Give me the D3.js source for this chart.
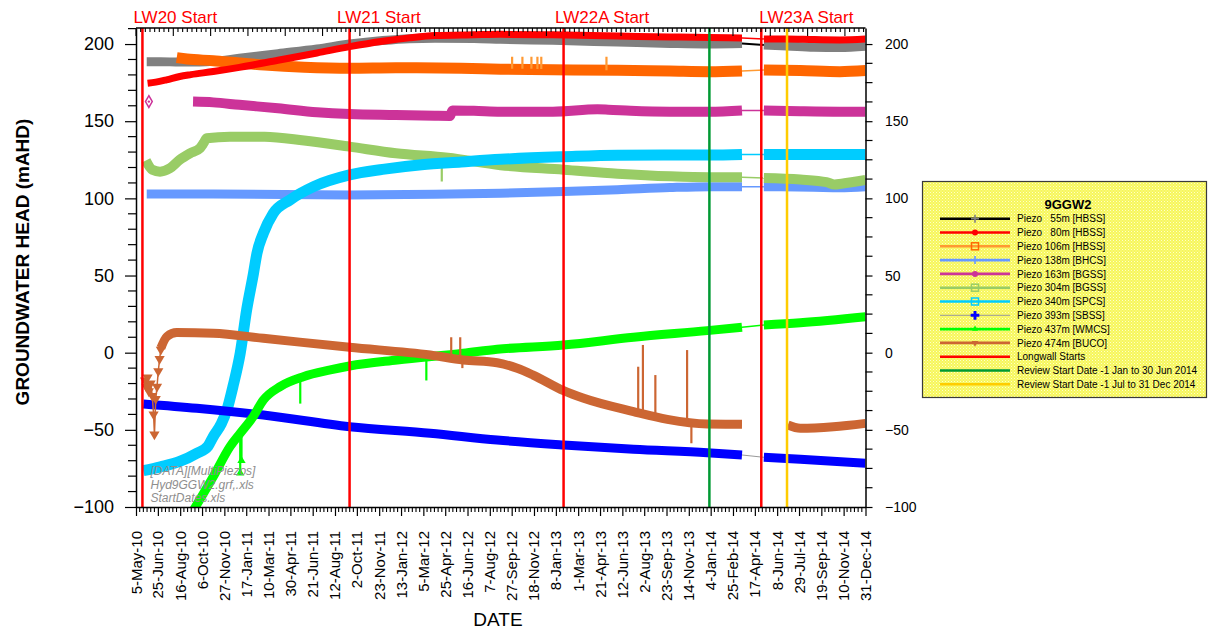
<!DOCTYPE html>
<html>
<head>
<meta charset="utf-8">
<script src="https://cdn.jsdelivr.net/npm/d3@7"></script>
<style>
  body { margin: 0; background: #ffffff; }
  svg text { font-family: "Liberation Sans", Arial, Helvetica, sans-serif; }
</style>
</head>
<body>
<svg id="chart" width="1216" height="633"></svg>
<script>
// ---------------------------------------------------------------
// 9GGW2 multi-level piezometer hydrograph (groundwater head, mAHD)
// ---------------------------------------------------------------

// Date axis tick labels
const xTickLabels = ["5-May-10","25-Jun-10","16-Aug-10","6-Oct-10","27-Nov-10","17-Jan-11","10-Mar-11",
  "30-Apr-11","21-Jun-11","12-Aug-11","2-Oct-11","23-Nov-11","13-Jan-12","5-Mar-12","25-Apr-12",
  "16-Jun-12","7-Aug-12","27-Sep-12","18-Nov-12","8-Jan-13","1-Mar-13","21-Apr-13","12-Jun-13",
  "2-Aug-13","23-Sep-13","14-Nov-13","4-Jan-14","25-Feb-14","17-Apr-14","8-Jun-14","29-Jul-14",
  "19-Sep-14","10-Nov-14","31-Dec-14"];
const yTickValues = [-100, -50, 0, 50, 100, 150, 200];

// Longwall start dates and review period start dates
const longwallNames = ["LW20 Start", "LW21 Start", "LW22A Start", "LW23A Start"];
const longwallDates = ["2010-05-20", "2011-09-15", "2013-01-26", "2014-05-02"];
const reviewDates = ["2014-01-01", "2014-07-01"];

// Logger download gap (no readings between these dates)
const dataGap = ["2014-03-20", "2014-05-06"];

// Piezometer readings [date, head mAHD]
const piezo55m = [["2010-05-30",188.6],["2010-07-01",188.6],["2010-08-15",188.3],["2010-10-01",188.4],
  ["2010-11-01",188.8],["2011-01-01",190.8],["2011-04-01",193.8],["2011-07-01",196.8],["2011-09-15",200],
  ["2011-12-01",202.3],["2012-02-01",203.5],["2012-04-01",203.8],["2012-07-01",203.6],["2012-09-01",203.1],
  ["2013-01-01",202.4],["2013-06-01",201.3],["2013-10-01",200.4],["2014-01-01",200],["2014-03-18",200.3],
  ["2014-05-08",199.4],["2014-07-01",198.8],["2014-09-01",197.9],["2014-11-01",197.7],["2014-12-31",198.6]];
const piezo80m = [["2010-06-01",174.6],["2010-06-20",175.3],["2010-07-15",176.8],["2010-08-15",179],
  ["2010-09-10",180.2],["2010-11-01",182.2],["2011-01-01",184.9],["2011-04-01",189.5],["2011-07-01",194.2],
  ["2011-09-15",198.3],["2011-12-01",201.8],["2012-02-01",204],["2012-04-01",205.5],["2012-07-01",206],
  ["2012-09-01",206.3],["2013-01-01",206],["2013-06-01",205.2],["2013-10-01",204.6],["2014-01-01",204.2],
  ["2014-03-18",204],["2014-05-08",203.3],["2014-07-01",203.3],["2014-09-01",202.9],["2014-11-01",202.7],
  ["2014-12-31",203.3]];
const piezo106m = [["2010-08-08",191.2],["2010-09-01",190.3],["2010-11-01",189.2],["2011-01-01",187.7],
  ["2011-03-01",186.4],["2011-06-01",185],["2011-09-15",184.3],["2012-01-01",184.6],["2012-06-01",184.3],
  ["2012-09-01",183.7],["2013-01-01",183.3],["2013-06-01",183],["2013-10-01",182.5],["2014-01-01",182.1],
  ["2014-03-18",182.6],["2014-05-08",183.2],["2014-08-01",182.8],["2014-11-01",182.1],["2014-12-31",182.8]];
const piezo138m = [["2010-05-30",102.9],["2010-11-01",102.9],["2011-09-15",102.2],["2012-04-01",102.6],
  ["2012-09-01",103.3],["2013-01-26",104.4],["2013-06-01",105.6],["2013-10-01",107],["2014-01-01",107.6],
  ["2014-03-18",107.6],["2014-05-08",107.6],["2014-09-01",107.2],["2014-11-01",106.9],["2014-12-31",107.6]];
const piezo163mEarly = [["2010-06-04",162.7]];
const piezo163m = [["2010-09-15",162.7],["2010-11-01",162.2],["2011-01-01",160.6],["2011-04-01",158.4],
  ["2011-07-01",155.8],["2011-09-15",154.6],["2012-01-01",154],["2012-04-01",153.5],["2012-05-06",153.4],
  ["2012-05-12",157],["2012-07-01",156.8],["2012-09-01",156.2],["2013-01-01",156.2],["2013-04-15",157.7],
  ["2013-05-10",157.5],["2013-07-01",156.8],["2013-10-01",156.2],["2014-01-01",156.2],["2014-03-18",157],
  ["2014-05-08",157],["2014-08-01",156.5],["2014-11-01",156.2],["2014-12-31",156.2]];
const piezo304m = [["2010-05-28",124.5],["2010-06-12",118.5],["2010-06-30",117.3],["2010-07-23",119.5],
  ["2010-08-15",125],["2010-09-08",129.2],["2010-10-01",132.5],["2010-10-10",136],["2010-10-17",139],
  ["2010-12-10",140],["2011-03-01",140],["2011-06-01",137.5],["2011-09-15",133.5],["2012-01-01",129.2],
  ["2012-05-01",126.3],["2012-09-01",121.5],["2013-01-26",118.6],["2013-06-01",116],["2013-10-01",114.3],
  ["2014-01-01",113.7],["2014-03-18",113.7],["2014-05-08",113.2],["2014-08-01",112.2],["2014-10-01",110.5],
  ["2014-10-20",109],["2014-11-05",109.5],["2014-12-31",111.9]];
const piezo340m = [["2010-05-22",-76.5],["2010-07-01",-74],["2010-08-15",-70.5],["2010-09-24",-65.2],
  ["2010-10-20",-60.5],["2010-11-01",-54.4],["2010-11-20",-46],["2010-12-03",-37.1],["2010-12-17",-22],
  ["2011-01-03",-0.4],["2011-01-18",27.7],["2011-02-03",51.5],["2011-02-11",64.4],["2011-02-26",77.4],
  ["2011-03-21",90.3],["2011-04-29",99],["2011-06-23",107.6],["2011-09-15",115.2],["2011-12-01",118.8],
  ["2012-03-01",121.8],["2012-06-01",123.6],["2012-09-01",125.3],["2013-01-26",127],["2013-06-01",128],
  ["2014-01-01",128.1],["2014-03-18",128.5],["2014-05-08",128.5],["2014-12-31",128.5]];
const piezo393m = [["2010-05-22",-33.2],["2010-09-24",-36],["2011-02-26",-40.4],["2011-09-15",-48],
  ["2012-03-21",-52.2],["2012-08-24",-56.6],["2013-01-26",-59.8],["2013-07-08",-62.6],["2013-12-27",-64.8],
  ["2014-03-18",-66.3],["2014-05-08",-67.8],["2014-08-01",-69.1],["2014-12-31",-71.7]];
const piezo437m = [["2010-09-14",-103],["2010-11-01",-80.4],["2010-12-10",-60.9],["2011-01-03",-52.2],
  ["2011-02-02",-41.5],["2011-02-26",-30.7],["2011-04-06",-22],["2011-05-30",-15.6],["2011-08-01",-11.2],
  ["2011-09-15",-8.6],["2012-01-04",-4.7],["2012-06-06",-0.4],["2012-08-24",2.2],["2013-01-26",5],
  ["2013-07-08",10],["2013-12-27",14.3],["2014-03-18",16.5],["2014-05-08",18],["2014-08-01",19.4],
  ["2014-12-31",23.3]];
const piezo474mEarly = [["2010-05-26",-18],["2010-05-29",-22],["2010-06-01",-16],["2010-06-04",-25],
  ["2010-06-08",-20],["2010-06-12",-28],["2010-06-15",-40],["2010-06-17",-53],["2010-06-20",-30],
  ["2010-06-23",-22],["2010-06-26",-12],["2010-06-29",-4],["2010-07-02",2]];
const piezo474m = [["2010-07-02",3],["2010-07-16",10.4],["2010-08-08",13],["2010-11-01",12.6],
  ["2011-02-26",9.3],["2011-09-15",3.5],["2012-03-21",-1.5],["2012-06-06",-4.7],["2012-08-24",-6.5],
  ["2012-10-10",-10.1],["2012-11-16",-14.5],["2013-01-26",-24.6],["2013-03-14",-29.6],["2013-07-08",-38.2],
  ["2013-09-25",-43.2],["2013-12-27",-46.2],["2014-03-18",-46.4],["2014-07-03",-46.9],["2014-08-01",-49],
  ["2014-10-17",-48],["2014-12-31",-45.8]];

// Single-reading spikes [date, from, to]
const spikes106m = [["2012-09-28",184,191.8],["2012-10-22",184,191.8],["2012-11-12",184,191.8],
  ["2012-11-26",183.8,191.8],["2012-12-05",183.8,191.8],["2013-05-06",183,191.8]];
const spikes304m = [["2012-04-17",126,111]];
const spikes437m = [["2011-01-03",-52,-78],["2011-01-06",-50,-70],["2011-05-23",-15,-33],["2012-03-12",-4,-18]];
const spikes474m = [["2012-05-09",-2,10],["2012-05-30",-3,10],["2012-06-04",-4,-10],["2013-07-19",-38.5,-9.1],
  ["2013-07-30",-39,5],["2013-08-28",-41,-14.5],["2013-11-10",-45,1.7],["2013-11-20",-45,-58.7]];

const legendTitle = "9GGW2";
const legendLabels = ["Piezo   55m [HBSS]","Piezo   80m [HBSS]","Piezo 106m [HBSS]","Piezo 138m [BHCS]",
  "Piezo 163m [BGSS]","Piezo 304m [BGSS]","Piezo 340m [SPCS]","Piezo 393m [SBSS]","Piezo 437m [WMCS]",
  "Piezo 474m [BUCO]","Longwall Starts","Review Start Date -1 Jan to 30 Jun 2014",
  "Review Start Date -1 Jul to 31 Dec 2014"];
const sourceNote = ["[DATA][MultiPiezos]", "Hyd9GGW2.grf,.xls", "StartDates.xls"];

// ---------------- styles ----------------
const seriesStyle = [
  { data: piezo55m,  band: "#808080", line: "#000000", width: 9,  marker: "plus",   mColor: "#808080", spikes: [], gapLine: 2 },
  { data: piezo80m,  band: "#ff0000", line: "#ff0000", width: 7,  marker: "dot",    mColor: "#ff0000", spikes: [], gapLine: 1.5 },
  { data: piezo106m, band: "#ff6600", line: "#ff9933", width: 11, marker: "square", mColor: "#ff6600", spikes: spikes106m, spikeColor: "#ff9933", gapLine: 1.5 },
  { data: piezo138m, band: "#6699ff", line: "#6699ff", width: 9,  marker: "plus",   mColor: "#6699ff", spikes: [], gapLine: 1.5 },
  { data: piezo163m, band: "#cc3399", line: "#cc3399", width: 10, marker: "dot",    mColor: "#cc3399", spikes: [], gapLine: 1.5, early: piezo163mEarly },
  { data: piezo304m, band: "#99cc66", line: "#99cc66", width: 10, marker: "square", mColor: "#99cc66", spikes: spikes304m, gapLine: 1.5 },
  { data: piezo340m, band: "#00ccff", line: "#00ccff", width: 11, marker: "square", mColor: "#00ccff", spikes: [], gapLine: 1.5 },
  { data: piezo393m, band: "#0000ff", line: "#999999", width: 9,  marker: "cross",  mColor: "#0000ff", spikes: [], gapLine: 1 },
  { data: piezo437m, band: "#00ff00", line: "#00ff00", width: 9,  marker: "triUp",  mColor: "#00ff00", spikes: spikes437m, spikeMarks: 2, gapLine: 1.5 },
  { data: piezo474m, band: "#cc6633", line: "#cc6633", width: 9,  marker: "triDown",mColor: "#cc6633", spikes: spikes474m, spikeMarks: 0, gapLine: 0, early: piezo474mEarly }
];
const drawOrder = [0, 2, 1, 3, 4, 5, 6, 7, 8, 9];
const longwallColor = "#ff0000";
const reviewColors = ["#009933", "#ffcc00"];
const labelShift = [-9, -12.5, -8.5, -2];

// ---------------- scales ----------------
const svg = d3.select("#chart");
const plot = { left: 136, right: 865.5, top: 28, bottom: 507 };
const parseDate = d3.timeParse("%Y-%m-%d");
const parseTick = d3.timeParse("%e-%b-%y");

const x = d3.scaleTime()
  .domain([parseDate("2010-05-05"), parseDate("2014-12-31")])
  .range([plot.left, plot.right]);
const y = d3.scaleLinear().domain([-100, 210.4]).range([plot.bottom, plot.top]);

const defs = svg.append("defs");
defs.append("clipPath").attr("id", "plotClip").append("rect")
  .attr("x", plot.left).attr("y", plot.top)
  .attr("width", plot.right - plot.left).attr("height", plot.bottom - plot.top);
const pat = defs.append("pattern").attr("id", "legendFill")
  .attr("width", 3).attr("height", 3).attr("patternUnits", "userSpaceOnUse");
pat.append("rect").attr("width", 3).attr("height", 3).attr("fill", "#f6f65c");
pat.append("rect").attr("width", 1).attr("height", 1).attr("fill", "#ffffc8");
pat.append("rect").attr("x", 1.5).attr("y", 1.5).attr("width", 1).attr("height", 1).attr("fill", "#ffffa8");

// ---------------- data ----------------
const toPts = arr => arr.map(d => ({ date: parseDate(d[0]), v: d[1] }));
const gapStart = parseDate(dataGap[0]), gapEnd = parseDate(dataGap[1]);
const bandLine = d3.line().x(d => x(d.date)).y(d => y(d.v)).curve(d3.curveMonotoneX);
const plainLine = d3.line().x(d => x(d.date)).y(d => y(d.v));

const dataG = svg.append("g").attr("clip-path", "url(#plotClip)");

// source note (drawn beneath the series)
const noteG = svg.append("g");
sourceNote.forEach((t, i) => {
  noteG.append("text").attr("x", 150.5).attr("y", 475 + i * 13.6)
    .attr("font-size", 12).attr("font-style", "italic").attr("fill", "#8e8e8e").text(t);
});

function symbolPath(type, size) {
  if (type === "triUp" || type === "triDown") return d3.symbol(d3.symbolTriangle, size)();
  return d3.symbol(d3.symbolCross, size)();
}

drawOrder.forEach(idx => {
  const s = seriesStyle[idx];
  const pts = toPts(s.data);
  const before = pts.filter(d => d.date < gapStart);
  const after = pts.filter(d => d.date > gapEnd);

  // thin connecting line across the logger gap
  if (s.gapLine > 0 && before.length && after.length) {
    dataG.append("path").datum([before[before.length - 1], after[0]])
      .attr("d", plainLine).attr("fill", "none")
      .attr("stroke", s.line).attr("stroke-width", s.gapLine);
  }
  // early scattered readings
  if (s.early) {
    const ep = toPts(s.early);
    if (ep.length > 1) {
      dataG.append("path").datum(ep).attr("d", plainLine).attr("fill", "none")
        .attr("stroke", s.band).attr("stroke-width", 1.5);
    }
    ep.forEach(p => {
      if (s.marker === "triDown") {
        dataG.append("path").attr("d", symbolPath("triDown", 45))
          .attr("transform", `translate(${x(p.date)},${y(p.v)}) rotate(180)`)
          .attr("fill", s.band);
      } else {
        dataG.append("path").attr("d", d3.symbol(d3.symbolDiamond, 40)())
          .attr("transform", `translate(${x(p.date)},${y(p.v)})`)
          .attr("fill", "none").attr("stroke", s.band).attr("stroke-width", 1.5);
        dataG.append("circle").attr("cx", x(p.date)).attr("cy", y(p.v)).attr("r", 1.2).attr("fill", s.band);
      }
    });
  }
  // thick band of readings
  [before, after].forEach(seg => {
    if (seg.length > 1) {
      dataG.append("path").datum(seg).attr("d", bandLine).attr("fill", "none")
        .attr("stroke", s.band).attr("stroke-width", s.width)
        .attr("stroke-linejoin", "round").attr("stroke-linecap", "butt");
    }
  });
  // single-reading spikes
  s.spikes.forEach((sp, k) => {
    const d = parseDate(sp[0]);
    dataG.append("line").attr("x1", x(d)).attr("x2", x(d))
      .attr("y1", y(sp[1])).attr("y2", y(sp[2]))
      .attr("stroke", s.spikeColor || s.band)
      .attr("stroke-width", 2.2);
    if (s.spikeMarks && k < s.spikeMarks) {
      dataG.append("path").attr("d", symbolPath(s.marker, 30))
        .attr("transform", `translate(${x(d)},${y(sp[2])})`)
        .attr("fill", s.band);
    }
  });
});

// ---------------- event lines ----------------
const evG = svg.append("g");
longwallDates.forEach((ds, i) => {
  const xx = x(parseDate(ds));
  evG.append("line").attr("x1", xx).attr("x2", xx).attr("y1", plot.top).attr("y2", plot.bottom)
    .attr("stroke", longwallColor).attr("stroke-width", 2.5);
  evG.append("text").attr("x", xx + labelShift[i]).attr("y", 23)
    .attr("font-size", 17).attr("fill", longwallColor).text(longwallNames[i]);
});
reviewDates.forEach((ds, i) => {
  const xx = x(parseDate(ds));
  evG.append("line").attr("x1", xx).attr("x2", xx).attr("y1", plot.top).attr("y2", plot.bottom)
    .attr("stroke", reviewColors[i]).attr("stroke-width", 2.5);
});

// ---------------- axes ----------------
const axisStroke = g => {
  g.selectAll(".domain").attr("stroke", "#000").attr("stroke-width", 1.5);
  g.selectAll(".tick line").attr("stroke", "#000").attr("stroke-width", 1.2);
};

// left
const gLeft = svg.append("g").attr("transform", `translate(${plot.left},0)`)
  .call(d3.axisLeft(y).tickValues(yTickValues).tickSize(11).tickSizeOuter(0).tickPadding(11));
gLeft.selectAll("text").attr("font-size", 18).attr("fill", "#000");
axisStroke(gLeft);
gLeft.selectAll(".minor").data(d3.range(-100, 211, 10).filter(v => v % 50 !== 0))
  .enter().append("line").attr("class", "minor")
  .attr("x1", -8).attr("x2", 0).attr("y1", d => y(d)).attr("y2", d => y(d))
  .attr("stroke", "#000").attr("stroke-width", 1.2);

// right
const gRight = svg.append("g").attr("transform", `translate(${plot.right},0)`)
  .call(d3.axisRight(y).tickValues(yTickValues).tickSize(7).tickSizeOuter(0).tickPadding(12.5));
gRight.selectAll("text").attr("font-size", 14).attr("fill", "#000");
axisStroke(gRight);
gRight.selectAll(".minor").data(d3.range(-100, 211, 12.5).filter(v => v % 50 !== 0))
  .enter().append("line").attr("class", "minor")
  .attr("x1", 0).attr("x2", 7).attr("y1", d => y(d)).attr("y2", d => y(d))
  .attr("stroke", "#000").attr("stroke-width", 1.2);

// bottom
const tickDates = xTickLabels.map(parseTick);
const gBottom = svg.append("g").attr("transform", `translate(0,${plot.bottom})`)
  .call(d3.axisBottom(x).tickValues(tickDates).tickSize(9).tickSizeOuter(0)
    .tickFormat((d, i) => xTickLabels[i]));
axisStroke(gBottom);
gBottom.selectAll("text")
  .attr("font-size", 15).attr("fill", "#000")
  .attr("transform", "rotate(-90)").attr("text-anchor", "end")
  .attr("x", -24).attr("y", 5).attr("dy", "0");
const tickIndex = d3.scaleLinear().domain([0, xTickLabels.length - 1]).range([plot.left, plot.right]);
gBottom.selectAll(".minor").data(d3.range(0, (xTickLabels.length - 1) * 6).filter(i => i % 6 !== 0))
  .enter().append("line").attr("class", "minor")
  .attr("x1", d => tickIndex(d / 6)).attr("x2", d => tickIndex(d / 6))
  .attr("y1", 0).attr("y2", 5).attr("stroke", "#000").attr("stroke-width", 1.1);

// top (inward ticks)
const gTop = svg.append("g").attr("transform", `translate(0,${plot.top})`);
gTop.append("line").attr("x1", plot.left).attr("x2", plot.right).attr("y1", 0).attr("y2", 0)
  .attr("stroke", "#000").attr("stroke-width", 1.5);
const topStepDays = 87 / 8;
const t0 = x.domain()[0];
const topTicks = d3.range(0, 1701 / topStepDays).map(i => ({ i, d: d3.timeHour.offset(t0, Math.round(i * topStepDays * 24)) }));
gTop.selectAll(".tt").data(topTicks).enter().append("line")
  .attr("x1", d => x(d.d)).attr("x2", d => x(d.d))
  .attr("y1", 0).attr("y2", d => (d.i % 8 === 0 ? 8 : 4))
  .attr("stroke", "#000").attr("stroke-width", 1.1);

// axis titles
svg.append("text").attr("transform", "translate(29,262) rotate(-90)")
  .attr("text-anchor", "middle").attr("font-size", 19).attr("font-weight", "bold")
  .attr("fill", "#000").text("GROUNDWATER HEAD (mAHD)");
svg.append("text").attr("x", 498).attr("y", 626).attr("text-anchor", "middle")
  .attr("font-size", 19).attr("fill", "#000").text("DATE");

// ---------------- legend ----------------
const lg = svg.append("g");
lg.append("rect").attr("x", 922.5).attr("y", 181.5).attr("width", 284).attr("height", 216)
  .attr("fill", "url(#legendFill)").attr("stroke", "#3a3a3a").attr("stroke-width", 1.2);
lg.append("text").attr("x", 1068).attr("y", 209).attr("text-anchor", "middle")
  .attr("font-size", 13).attr("font-weight", "bold").attr("fill", "#000").text(legendTitle);

const legendRowColors = seriesStyle.map(s => s.line).concat([longwallColor], reviewColors);
legendLabels.forEach((lab, i) => {
  const cy = 218.7 + i * 13.8;
  const s = seriesStyle[i];
  lg.append("line").attr("x1", 940).attr("x2", 1010).attr("y1", cy).attr("y2", cy)
    .attr("stroke", legendRowColors[i]).attr("stroke-width", s && s.marker === "cross" ? 1 : 2.6);
  if (s) {
    const c = s.mColor;
    if (s.marker === "plus") {
      lg.append("line").attr("x1", 971).attr("x2", 979).attr("y1", cy).attr("y2", cy).attr("stroke", c).attr("stroke-width", 1.6);
      lg.append("line").attr("x1", 975).attr("x2", 975).attr("y1", cy - 4).attr("y2", cy + 4).attr("stroke", c).attr("stroke-width", 1.6);
    } else if (s.marker === "dot") {
      lg.append("circle").attr("cx", 975).attr("cy", cy).attr("r", 3).attr("fill", c);
    } else if (s.marker === "square") {
      lg.append("rect").attr("x", 971.5).attr("y", cy - 3.5).attr("width", 7).attr("height", 7)
        .attr("fill", "none").attr("stroke", c).attr("stroke-width", 1.5);
    } else if (s.marker === "cross") {
      lg.append("path").attr("d", d3.symbol(d3.symbolCross, 42)()).attr("transform", `translate(975,${cy})`).attr("fill", c);
    } else if (s.marker === "triUp") {
      lg.append("path").attr("d", d3.symbol(d3.symbolTriangle, 16)()).attr("transform", `translate(975,${cy})`).attr("fill", c);
    } else if (s.marker === "triDown") {
      lg.append("path").attr("d", d3.symbol(d3.symbolTriangle, 20)()).attr("transform", `translate(975,${cy}) rotate(180)`).attr("fill", c);
    }
  }
  lg.append("text").attr("x", 1017).attr("y", cy + 3.6).attr("font-size", 10)
    .attr("fill", "#000").style("white-space", "pre").text(lab);
});
</script>
</body>
</html>
